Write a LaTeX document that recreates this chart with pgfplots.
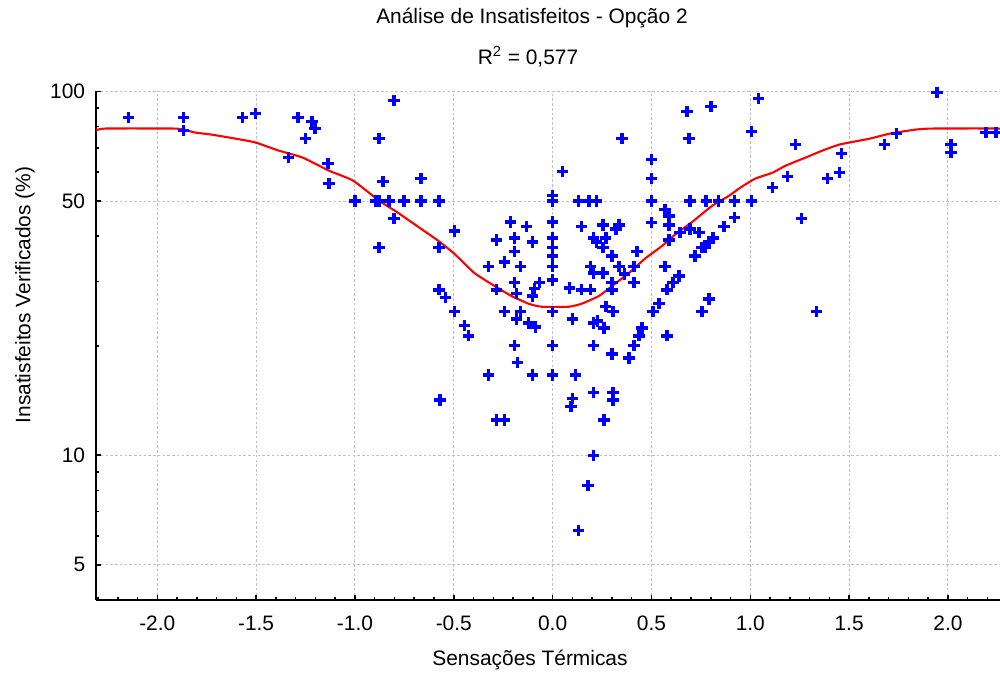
\documentclass[border=0pt]{standalone}
\usepackage{fontspec}
\setmainfont{Liberation Sans}
\usepackage{pgfplots}
\pgfplotsset{compat=1.18}

% one image pixel of the reference = 0.0185cm
\definecolor{gridgray}{RGB}{192,192,192}
\definecolor{ptblue}{RGB}{0,0,255}

\begin{document}
\begin{tikzpicture}[font=\fontsize{11pt}{13pt}\selectfont]
  \begin{axis}[
      scale only axis,
      width=16.724cm,
      height=9.404cm,
      ymode=log,
      xmin=-2.31, xmax=2.265,
      ymin=4, ymax=100,
      axis x line=bottom,
      axis y line=left,
      axis line style={-, black, line width=0.9pt},
      xtick={-2,-1.5,...,2},
      minor xtick={-2.3,-2.2,...,2.25},
      ytick={5,10,50,100},
      yticklabels={5,10,50,100},
      minor ytick={4,6,7,8,9,20,30,40,60,70,80,90},
      tick align=inside,
      major tick length=0.09cm,
      minor tick length=0.055cm,
      tick style={black, line width=0.8pt},
      grid=major,
      grid style={gridgray, line width=0.5pt, dash pattern=on 1.4pt off 1.1pt},
      /pgf/number format/assume math mode=true,
      ticklabel style={font=\fontsize{11pt}{13pt}\selectfont},
      xticklabel style={/pgf/number format/fixed, /pgf/number format/fixed zerofill,
        /pgf/number format/precision=1, anchor=center, yshift=-0.4255cm},
      yticklabel style={anchor=east, inner sep=0pt, xshift=-0.194cm},
      clip=true,
    ]
    % observed points
    \addplot[only marks, mark=+, mark size=3pt, ptblue, mark options={line width=1.8pt}] table {
      x y
      -2.147 84.8
      -1.868 84.8
      -1.868 78.0
      -1.569 84.8
      -1.503 87.0
      -1.289 84.8
      -1.218 82.7
      -1.203 79.1
      -1.249 74.2
      -1.335 65.8
      -1.137 63.3
      -1.132 55.8
      -1.000 50
      -0.893 50
      -0.878 50
      -0.827 50
      -0.751 50
      -0.665 50
      -0.574 50
      -0.878 74.2
      -0.858 56.5
      -0.802 94.4
      -0.802 44.7
      -0.878 37.2
      -0.665 57.6
      -0.497 41.4
      -0.574 37.2
      -0.574 28.5
      -0.543 27.1
      -0.497 24.8
      -0.447 22.7
      -0.426 21.3
      -0.569 14.2
      -0.213 43.8
      -0.132 42.5
      -0.284 39.1
      -0.193 39.6
      -0.102 38.6
      -0.193 36.3
      -0.244 34.0
      -0.325 33.0
      -0.162 33.0
      -0.193 29.8
      -0.066 29.8
      -0.284 28.5
      -0.183 27.8
      -0.091 28.7
      -0.102 27.4
      -0.244 24.8
      -0.162 24.8
      -0.183 23.7
      -0.122 23.1
      -0.086 22.5
      -0.193 20.0
      -0.178 18.0
      -0.325 16.6
      -0.102 16.6
      -0.284 12.5
      -0.244 12.5
      0.000 51.7
      0.000 50
      0.000 43.8
      0.000 39.6
      0.000 37.2
      0.000 35.3
      0.000 33.0
      0.000 30.3
      0.000 24.8
      0.000 20.0
      0.000 16.6
      0.051 60.2
      0.350 74.2
      0.132 50
      0.183 50
      0.223 50
      0.147 42.5
      0.254 43.0
      0.335 43.0
      0.320 41.9
      0.208 39.6
      0.269 39.6
      0.223 38.6
      0.254 37.2
      0.300 35.3
      0.426 36.3
      0.193 33.0
      0.208 31.7
      0.254 31.7
      0.335 33.0
      0.411 33.0
      0.365 31.5
      0.300 29.8
      0.411 29.8
      0.086 28.8
      0.147 28.5
      0.193 28.5
      0.300 28.5
      0.102 23.7
      0.208 23.1
      0.228 23.4
      0.259 22.4
      0.269 25.6
      0.305 24.8
      0.452 22.4
      0.437 21.3
      0.411 20.0
      0.386 18.5
      0.208 20.0
      0.300 19.0
      0.117 16.6
      0.208 14.9
      0.305 14.9
      0.102 14.3
      0.092 13.6
      0.305 14.2
      0.259 12.5
      0.208 10.0
      0.178 8.27
      0.132 6.21
      0.500 65.1
      0.500 57.6
      0.500 50
      0.500 43.6
      0.569 47.3
      0.589 45.5
      0.589 43.0
      0.589 39.1
      0.645 40.9
      0.569 33.0
      0.609 29.8
      0.640 31.1
      0.579 28.5
      0.538 26.1
      0.508 24.8
      0.579 21.3
      0.756 24.8
      0.792 26.9
      0.680 88.1
      0.802 90.9
      0.690 74.2
      0.695 50
      0.777 50
      0.838 50
      0.919 50
      1.005 50
      0.695 41.9
      0.741 40.9
      0.812 39.6
      0.792 38.6
      0.756 37.2
      0.772 37.2
      0.721 35.3
      0.868 42.5
      0.919 45.0
      1.041 95.6
      1.005 77.6
      1.944 99.4
      1.228 71.5
      1.112 54.4
      1.188 58.3
      1.259 44.7
      1.335 24.8
      1.391 57.6
      1.452 59.8
      1.462 67.5
      1.680 71.5
      1.741 76.6
      2.015 71.5
      2.015 67.9
      2.193 77.1
      2.244 77.1
    };
    % fitted curve
    \addplot[red, line width=1.1pt, no marks, smooth, tension=0.3] table {
      x y
      -2.310 78.1
      -2.264 79.1
      -1.919 79.1
      -1.868 78.6
      -1.807 77.1
      -1.731 76.2
      -1.604 74.2
      -1.503 72.4
      -1.386 68.8
      -1.264 65.8
      -1.132 60.6
      -1.010 56.9
      -0.878 50.1
      -0.782 46.4
      -0.665 41.9
      -0.579 38.9
      -0.497 35.8
      -0.396 31.7
      -0.294 29.2
      -0.208 27.4
      -0.122 26.1
      -0.056 25.6
      0.081 25.6
      0.147 26.1
      0.234 27.4
      0.315 29.6
      0.386 31.7
      0.467 34.7
      0.553 37.6
      0.619 40.4
      0.706 43.8
      0.807 48.5
      0.893 51.7
      0.949 54.4
      1.025 57.6
      1.112 59.8
      1.178 62.5
      1.279 65.8
      1.365 68.8
      1.452 71.5
      1.604 74.2
      1.706 76.6
      1.838 78.6
      1.924 79.1
      2.255 79.1
      2.265 78.1
    };
  \end{axis}
  \begin{scope}[shift={(current axis.south west)}, x=0.0185cm, y=0.0185cm]
    \node at (436,582) {Análise de Insatisfeitos - Opção 2};
    \node at (432,543) {R\textsuperscript{2} = 0,577};
    \node at (434,-60) {Sensações Térmicas};
    \node[rotate=90] at (-71,305) {Insatisfeitos Verificados (\%)};
    \pgfresetboundingbox
    \path[use as bounding box] (-96,-73) rectangle (904,600);
  \end{scope}
\end{tikzpicture}
\end{document}
